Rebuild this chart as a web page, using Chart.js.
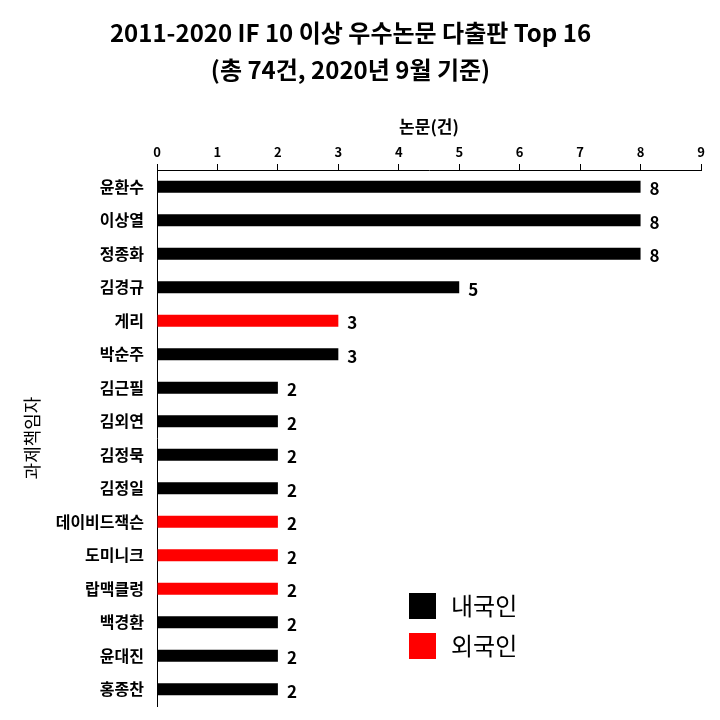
<!DOCTYPE html>
<html>
<head>
<meta charset="utf-8">
<script src="https://cdn.jsdelivr.net/npm/chart.js@4.4.1/dist/chart.umd.min.js"></script>
<style>
  html, body { margin: 0; padding: 0; background: #fff; }
  #wrap { width: 720px; height: 720px; }
</style>
</head>
<body>
<div id="wrap"><canvas id="c" width="720" height="720"></canvas></div>
<script>
const titleLines = ['2011-2020 IF 10 이상 우수논문 다출판 Top 16', '(총 74건, 2020년 9월 기준)'];
const names = ['윤환수','이상열','정종화','김경규','게리','박순주','김근필','김외연','김정묵','김정일','데이비드잭슨','도미니크','랍맥클렁','백경환','윤대진','홍종찬'];
const papers = [8, 8, 8, 5, 3, 3, 2, 2, 2, 2, 2, 2, 2, 2, 2, 2];
const origin = ['내국인','내국인','내국인','내국인','외국인','내국인','내국인','내국인','내국인','내국인','외국인','외국인','외국인','내국인','내국인','내국인'];
const groups = ['내국인', '외국인'];
const groupColors = ['#000000', '#FF0000'];
const xTicks = [0, 1, 2, 3, 4, 5, 6, 7, 8, 9];
const xTitle = '논문(건)';
const yTitle = '과제책임자';

const FONT = '"Noto Sans CJK KR", "Noto Sans", sans-serif';
const colorOf = g => groupColors[groups.indexOf(g)];

const valueLabels = {
  id: 'valueLabels',
  afterDatasetsDraw(chart) {
    const ctx = chart.ctx;
    const meta = chart.getDatasetMeta(0);
    ctx.save();
    ctx.font = 'bold 17px ' + FONT;
    ctx.fillStyle = '#000';
    ctx.textAlign = 'left';
    ctx.textBaseline = 'middle';
    meta.data.forEach((bar, i) => {
      ctx.fillText(String(papers[i]), bar.x + 9, bar.y + 2);
    });
    ctx.restore();
  }
};

const customLegend = {
  id: 'customLegend',
  afterDraw(chart) {
    const ctx = chart.ctx;
    const a = chart.chartArea;
    const x0 = a.left + 252;
    const y0 = a.top + 423;
    ctx.save();
    ctx.font = '24px ' + FONT;
    ctx.textBaseline = 'middle';
    ctx.textAlign = 'left';
    groups.forEach((g, i) => {
      const y = y0 + i * 40;
      ctx.fillStyle = groupColors[i];
      ctx.fillRect(x0, y, 27, 26);
      ctx.fillStyle = '#000';
      ctx.fillText(g, x0 + 42, y + 13);
    });
    ctx.restore();
  }
};

new Chart(document.getElementById('c'), {
  type: 'bar',
  data: {
    labels: names,
    datasets: [{
      data: papers,
      backgroundColor: origin.map(colorOf),
      borderWidth: 0,
      barPercentage: 0.36,
      categoryPercentage: 1.0
    }]
  },
  options: {
    indexAxis: 'y',
    responsive: false,
    animation: false,
    devicePixelRatio: 1,
    layout: { padding: { left: 0, right: 19, top: 0, bottom: 14 } },
    plugins: {
      legend: { display: false },
      tooltip: { enabled: false },
      title: {
        display: true,
        text: titleLines,
        color: '#000',
        font: { family: FONT, size: 24, weight: 'bold', lineHeight: 37 / 24 },
        padding: { top: 14, bottom: 0 }
      }
    },
    scales: {
      x: {
        position: 'top',
        min: 0,
        max: 9,
        afterFit(scale) { scale.height = 82; },
        afterBuildTicks(scale) { scale.ticks = xTicks.map(v => ({ value: v })); },
        ticks: {
          color: '#000',
          font: { family: FONT, size: 13, weight: 'bold' },
          padding: 4,
          maxRotation: 0
        },
        grid: { display: true, drawOnChartArea: false, drawTicks: true, tickLength: 6, color: '#000' },
        border: { display: true, color: '#000', width: 1 },
        title: {
          display: true,
          text: xTitle,
          color: '#000',
          font: { family: FONT, size: 17, weight: '600' },
          padding: { top: 28, bottom: 0 }
        }
      },
      y: {
        afterFit(scale) { scale.width = 157; scale.paddingTop = 0; scale.paddingBottom = 0; },
        ticks: {
          color: '#000',
          font: { family: FONT, size: 16, weight: 'bold' },
          padding: 13,
          autoSkip: false
        },
        grid: { display: false, drawTicks: false },
        border: { display: true, color: '#000', width: 1 },
        title: {
          display: true,
          text: yTitle,
          color: '#000',
          font: { family: FONT, size: 18, weight: 'normal' },
          padding: { top: 21, bottom: 0 }
        }
      }
    }
  },
  plugins: [valueLabels, customLegend]
});
</script>
</body>
</html>
